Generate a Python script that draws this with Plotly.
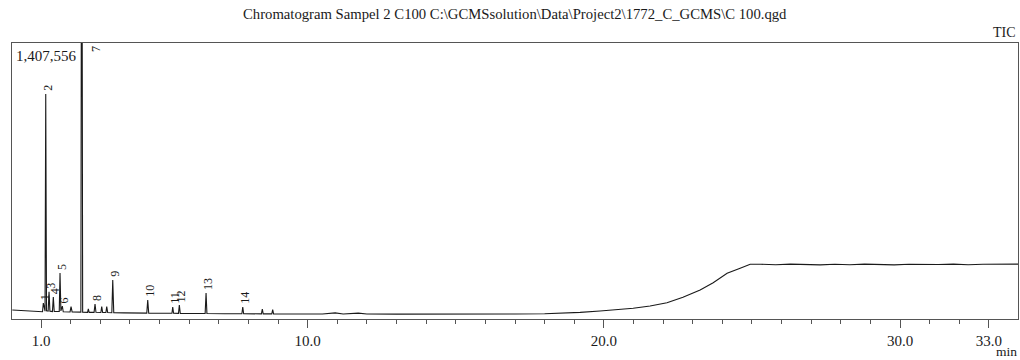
import plotly.graph_objects as go

# ---------------- data ----------------
# baseline / drift points (retention time in min, TIC intensity)
base_rt = [0.03, 0.30, 0.60, 0.90, 1.05, 1.11, 1.135, 1.185, 1.24, 1.30, 1.385, 1.445,
           1.615, 1.67, 1.75, 1.98, 2.05, 2.345, 2.405, 2.57, 2.625, 2.79, 2.855,
           3.02, 3.08, 3.19, 3.25, 3.39, 3.455, 3.80, 4.20, 4.57, 4.635, 5.00,
           5.42, 5.475, 5.64, 5.70, 6.00, 6.54, 6.60, 7.20, 7.78, 7.84, 8.44, 8.50,
           8.79, 8.85, 9.50, 10.50, 10.93, 11.20, 11.71, 12.00, 13.00, 14.00, 15.00,
           16.00, 17.00, 18.00, 18.52, 19.20, 19.87, 20.40, 20.99, 21.56, 22.13,
           22.67, 23.25, 23.69, 24.16, 24.60, 24.94, 25.30, 25.80, 26.30, 26.80,
           27.30, 27.80, 28.30, 28.80, 29.30, 29.80, 30.30, 30.80, 31.30, 31.80,
           32.30, 32.80, 33.30, 33.98]
base_tic = [46000, 43000, 40000, 37500, 37000, 40000, 40000, 42000, 40000, 40000, 38000, 38000,
            39000, 41000, 37000, 36000, 36000, 35000, 35000, 34000, 34000, 34000, 34000,
            33000, 33000, 33000, 33000, 32000, 32000, 31000, 30000, 30000, 30000, 29000,
            29000, 29000, 28500, 28500, 28000, 28000, 28000, 27000, 27000, 27000, 26000, 26000,
            26000, 26000, 25500, 25500, 31000, 25500, 30000, 25500, 25000, 24500, 24500,
            25000, 25500, 27000, 29000, 34000, 40800, 47000, 54600, 66000, 83000,
            111000, 148000, 185000, 233000, 259000, 279000, 279000, 277000, 280000, 278000,
            276000, 279000, 277000, 280000, 278000, 276000, 279000, 277000, 278000, 280000,
            277000, 279000, 281000, 280000]

# labelled peaks
peak_rt = [1.078, 1.159, 1.270, 1.415, 1.641, 1.719, 2.374, 2.823, 3.421, 4.602,
           5.446, 5.669, 6.571, 7.810]
peak_tic = [81600, 1147500, 139000, 112000, 235000, 66000, 3000000, 76500, 199000, 97000,
            61000, 71000, 133000, 61000]
peak_label = ["1", "2", "3", "4", "5", "6", "7", "8", "9", "10", "11", "12", "13", "14"]

# small unlabelled peaks
minor_rt = [2.013, 2.597, 3.049, 3.218, 8.47, 8.82]
minor_tic = [63000, 51000, 63000, 63000, 51000, 48000]

full_scale = 1407556
x_ticks = [1.0, 10.0, 20.0, 30.0, 33.0]
x_ticktext = ["1.0", "10.0", "20.0", "30.0", "33.0"]
minor_ticks = list(range(1, 34))

title_text = r"Chromatogram Sampel 2 C100 C:\GCMSsolution\Data\Project2\1772_C_GCMS\C 100.qgd"

# ---------------- build trace ----------------
pts = sorted(zip(base_rt + peak_rt + minor_rt, base_tic + peak_tic + minor_tic))
rt = [p[0] for p in pts]
tic = [p[1] for p in pts]

FONT = "Liberation Serif"
INK = "#1a1a1a"
FRAME = "#555555"

fig = go.Figure()
fig.add_trace(go.Scatter(x=rt, y=tic, mode="lines",
                         line=dict(color=INK, width=1.1), hoverinfo="skip",
                         showlegend=False))

annotations = []
for x, y, lab in zip(peak_rt, peak_tic, peak_label):
    if y > full_scale:
        annotations.append(dict(x=x + 0.5, y=0.995, xref="x", yref="paper", text=lab,
                                textangle=-90, showarrow=False, xanchor="center",
                                yanchor="top", font=dict(family=FONT, size=12, color=INK)))
    else:
        annotations.append(dict(x=x, y=y, xref="x", yref="y", text=lab, textangle=-90,
                                showarrow=False, xanchor="center", yanchor="bottom",
                                xshift=2, yshift=1,
                                font=dict(family=FONT, size=12, color=INK)))

annotations += [
    dict(x=0.5, y=1, xref="paper", yref="paper", yshift=29, text=title_text,
         showarrow=False, xanchor="center", yanchor="middle",
         font=dict(family=FONT, size=14.7, color=INK)),
    dict(x=0, y=1, xref="paper", yref="paper", xshift=2, yshift=-13,
         text=f"{full_scale:,}", showarrow=False, xanchor="left", yanchor="middle",
         font=dict(family=FONT, size=15, color=INK)),
    dict(x=1, y=1, xref="paper", yref="paper", xshift=0, yshift=11, text="TIC",
         showarrow=False, xanchor="right", yanchor="middle",
         font=dict(family=FONT, size=14, color=INK)),
    dict(x=1, y=0, xref="paper", yref="paper", xshift=1, yshift=-32, text="min",
         showarrow=False, xanchor="right", yanchor="middle",
         font=dict(family=FONT, size=13.5, color=INK)),
]

fig.update_layout(
    width=1020, height=360,
    margin=dict(l=12, r=2, t=43, b=41),
    paper_bgcolor="white", plot_bgcolor="white",
    annotations=annotations,
    xaxis=dict(range=[0.02, 33.98], showgrid=False, zeroline=False,
               showline=True, linecolor=FRAME, linewidth=1, mirror=True,
               tickmode="array", tickvals=x_ticks, ticktext=x_ticktext,
               ticks="outside", ticklen=8, tickcolor=FRAME, tickwidth=1,
               tickfont=dict(family=FONT, size=15, color=INK),
               minor=dict(tickmode="array", tickvals=minor_ticks, ticks="outside",
                          ticklen=4, tickcolor=FRAME, showgrid=False)),
    yaxis=dict(range=[0, full_scale], showgrid=False, zeroline=False,
               showline=True, linecolor=FRAME, linewidth=1, mirror=True,
               showticklabels=False, ticks=""),
)

# remove the browser's default 8 px body margin so the figure fills the window
fig.write_html("out.html",
               config={"displayModeBar": False, "staticPlot": True},
               post_script="document.body.style.margin='0';"
                           "document.body.style.overflow='hidden';")
